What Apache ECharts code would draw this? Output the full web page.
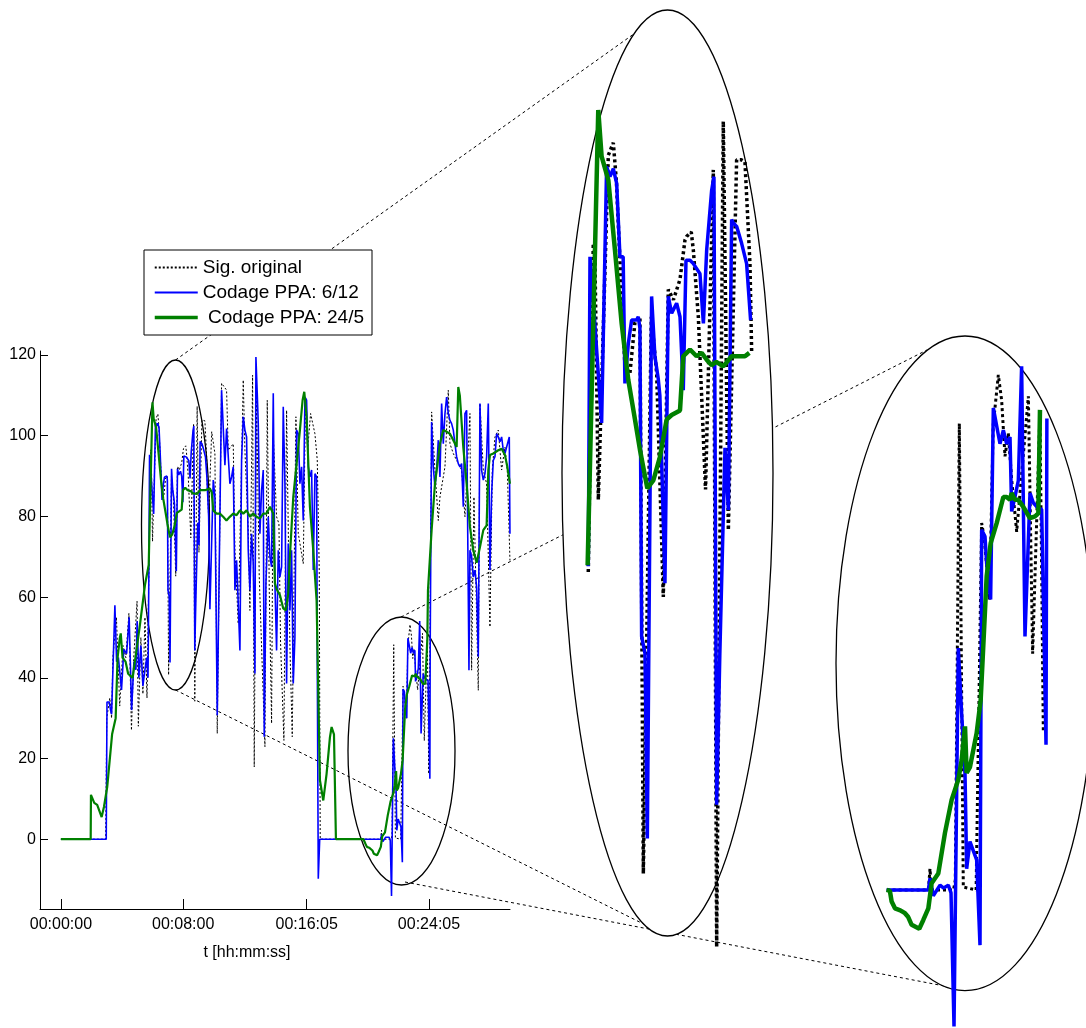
<!DOCTYPE html>
<html><head><meta charset="utf-8">
<script src="https://cdn.jsdelivr.net/npm/echarts@6/dist/echarts.min.js"></script>
<style>html,body{margin:0;padding:0;background:#fff}#c{width:1086px;height:1028px}</style>
</head><body><div id="c"></div>
<script>
// ---------- data (time in seconds, value in signal units) ----------
const xTickValues = [0, 480, 965, 1445];
const xTickLabels = ['00:00:00', '00:08:00', '00:16:05', '00:24:05'];
const yTickValues = [0, 20, 40, 60, 80, 100, 120];

const origT = [0,176,180,192,199,204,218,231,244,255,267,277,286,299,304,314,322,330,338,
 345.6,352.6,355,359.7,373.7,380.7,385,390,397,404,411,418,422.8,434,441.5,450.8,457.8,465,474.2,481.2,483.5,490,492.9,499.9,510,520.9,525.6,534.9,542,553.6,560,565.3,572.3,574.7,
 580,592,604.6,613.8,630.8,650.4,657,676.6,683.2,696.2,715.9,722.4,735.5,742,752.5,759,768.2,778.7,801,810.1,818,827.1,833.7,846.7,855.9,862.4,875.5,886,899.1,908.2,922.6,931.8,951.4,960.6,968.5,980.2,997.2,1006.4,1014.2,1018,
 1187.7,1256,1258.6,1261,1297,1300,1306.6,1313.1,1334,1343.1,1347,1352,1356,1362,1370.4,1375.8,1381.3,1386.7,1392.2,1400.4,1419.5,1426.5,1438.5,1444,
 1450,1455.3,1468.4,1481.5,1488,1507.7,1520.7,1527.3,1540.4,1553.5,1573.1,1586.2,1605.8,1612.3,1621.5,1638.5,1645.1,1658.2,1671.2,1684.3,1693.5,1704,1717,1730.1,1743.2,1752.4,1762.8];
const origV = [0,0,30,35,30,45,55,33,48,45,56,27,45,59,28,50,36,55,35,
 67.4,96.5,95,73.8,104.3,105.4,102,95,85.6,85,89.5,90,40.7,90,85,65.2,92.4,91.5,93.3,96.8,97.1,97.5,95.9,90,74.7,103,34.2,107.3,71.1,103.9,103.9,103.7,94.7,86.8,
 80,101,95.6,26.2,113,111.3,96.4,98,71.6,53.4,113.8,96.4,76.6,56.7,115,17.9,108.8,65,22.9,108.8,61.7,28.7,100.5,79.9,78.2,48.5,24.5,106.3,47.7,25.4,104.7,75.8,68.3,109.6,96.4,105.5,100.5,94,66.7,0,
 0,0,2.2,0,0,1,48.2,0.3,0,37.9,36.5,33,30,48,53.2,50.6,44.8,47.2,42.4,37,51,24.4,49.4,16.2,
 60,105.9,91.5,79,84.8,92.3,111.3,98,95.6,93.9,91.5,79.9,105.5,41.9,84.8,36.9,108,91.5,88.1,52.6,91.5,99.7,101.4,91.5,97.2,91.5,69.1];

const blueT = [0,178,181,190,195,199,212,218.7,225.7,238,247,258,268,277.6,286.6,294.5,299.5,306,314,322,330,337,342,
 345.6,348,352,364.3,371.3,376,380.7,385.4,390,394.5,397,401.7,406.4,413.4,415.7,418,420.4,425.1,428.4,434.4,439,443.7,446,453.1,457.8,462.5,469.5,474.2,478.8,482.6,488.2,492.9,502.2,507,511.6,518.6,521.8,525.6,530,537.3,542,546.6,549,553.6,560.6,567.6,573.2,
 580,585,598.1,604.6,613.8,630.8,637.3,643.9,650.4,657,663.5,670.1,676.6,683.2,689.7,696.2,702.8,709.3,715.9,722.4,729,735.5,742,748.6,755.1,761.7,765.6,770.8,774.8,781.3,787.8,794.4,798.3,804.9,814,820.6,827.1,833.7,840.2,846.7,853.3,859.8,866.4,872.9,879.5,886,892.5,899.1,905.6,912.2,918.7,925.3,931.8,938.3,944.9,951.4,958,964.5,971.1,977.6,984.2,990.7,997.3,1003.8,1007,1010.4,1016,
 1187.7,1255.9,1258.6,1264,1275,1281,1288.6,1293,1297.9,1304.9,1310.4,1315.9,1318.6,1324,1334.9,1340.4,1343.1,1348.6,1351.3,1357.8,1362.2,1373.1,1378.6,1384,1389.5,1392.2,1397.6,1403.1,1408.5,1414,1422.2,1427.6,1433.1,1441.3,1448.4,1449.8,
 1455.3,1461.8,1468.4,1474.9,1481.5,1488,1494.6,1501.1,1507.7,1514.2,1520.7,1527.3,1533.8,1540.4,1546.9,1553.5,1560,1566.5,1573.1,1579.6,1586.2,1592.7,1601.9,1605.8,1612.3,1618.9,1625.4,1632,1638.5,1645.1,1651.6,1658.2,1664.7,1671.2,1677.8,1684.3,1690.9,1697.4,1704,1710.5,1717,1723.6,1730.1,1736.7,1743.2,1749.8,1760.2,1762.8];
const blueV = [0,0,34,34,32,31,58,44,45,37,47,46,55,32,44,42,54,40,48,38,42,45,40,
 67.9,95.3,92,80.6,103.3,102.4,103.1,101.8,95.3,95.3,84.1,87.6,89.7,89.7,90,89,61.7,60.2,43.8,91.8,86.5,84.5,83,66.4,91.8,90.3,91.2,90,83.5,95,95,94.7,93.8,89.4,95.9,101.2,102.4,46.8,60,78.4,72.9,98.6,98.3,98,96.5,94.7,89.7,
 80,57,89,84.8,30.7,111.3,111.7,92.7,101.8,101.4,88.1,89.8,92.3,61.7,69.1,58.4,46.8,93.9,104.7,101.4,99.7,71.6,61.7,75.7,68.3,41.1,119.5,110.5,103,75.7,86.5,91.5,25.4,63.4,79.9,70,67.5,110.5,63.4,46.8,71.6,65,67.5,107.2,88.1,38.6,73.3,56.7,71.6,38.6,50.1,101.4,100.5,88.1,92.3,79,109.6,108.8,92.3,89.8,91.5,66.7,90.6,89.8,37,-9.8,0,
 0,0,1.2,-0.6,0.5,0.2,0.5,-0.3,-14.1,25,18.2,12,2.2,5,3.1,-5.7,37.2,36.5,33.7,30,49.8,46.1,47.5,46.1,46.8,39.1,40.6,42.3,54.1,26.2,41,40,39.6,39.3,15,48.7,
 103.4,92.3,87.3,91.4,98.9,89.8,108,98,105.5,109.6,105.5,103.8,103,101.4,98,94.8,93.1,92.3,93.1,82.4,105.5,106.3,41.9,71.6,70,65,66.7,62.5,45.2,108,91.4,89,90.6,94.8,108,66.7,85.7,93.9,94.8,100.5,99.7,98.5,99.7,96.4,95.6,97.2,99.7,75.7];

const greenT = [0,117,118,131,142.5,160,169,182,201,215,222.6,231.6,235,242,254,264,281.5,290.5,303.5,310,330,
 344.7,359.6,364.3,373.7,383,392.4,401.7,411.1,418.1,428.4,436.8,446.1,455.5,462.5,474.2,478.8,483.5,488.2,497.5,504.5,511.6,518.6,525,534.9,546.6,565.3,571.4,
 585,592,598,611,624,637,650,663,676.6,689.7,702.8,716,729,742,755,768,781.3,794.4,807.5,820.6,833.7,840.2,846.7,859.8,872.9,883,892.5,899,912.2,925.3,938.3,948.8,955.4,964.5,977.6,990.7,1003.8,1016.9,1030,1043,1056.2,1062.7,1069,1072,1079.7,
 1187.7,1193,1195.9,1201.3,1210,1217.7,1223,1228.6,1241.1,1247.7,1255.9,1261.3,1272.2,1283.1,1294,1304.9,1310.4,1315.9,1318.6,1324,1334.9,1341.5,1351.3,1357.8,1367.7,1378.6,1384,1389.5,1392.2,1397.6,1403.1,1411,1422.2,1430.4,1435.8,1438.5,
 1441,1445,1455.3,1468.4,1488,1501.1,1514,1527.3,1540.4,1553.5,1560,1566,1579.6,1592.7,1605.8,1618.9,1632,1645.1,1658.2,1671.2,1677.8,1684.3,1697.4,1717,1730.1,1743.2,1752.4,1762.8];
const greenV = [0,0,11,9,8.5,5.5,8,13,26,30,45,50,51,45,44,41,40,44,50,53,63,
 68,108.3,104.2,102.1,95.9,89.4,84.4,80.9,78.2,74.8,75.5,77.6,80.9,81.3,81.7,86.5,86.8,87.1,86.5,86.8,86.2,85.7,86,85.6,86.5,86.5,86.8,
 86.9,86,81.5,80.7,80.7,79.9,79,79.9,80.7,80.3,81.5,80.7,81.5,79.9,80.7,79.9,79.5,80.7,80.7,82.4,80.7,63.4,62,60.5,57.2,56.7,60.9,70,84.8,93.1,101.4,108.8,110.9,104.7,82.4,71.6,59.2,14.6,9.6,16.2,25.3,27.8,27.8,26,0,
 0,-0.1,-1.2,-1.9,-2.1,-2.4,-2.8,-3.6,-4,-3.1,-1.9,0.7,1.7,5.9,9.3,11.4,13.4,16.9,12.1,12.7,16.2,19.6,32.4,35.8,37.9,40.6,40.6,40.3,41,40.3,40.3,39.6,38.4,38.6,38.9,49.6,
 61.7,62,76.6,88.1,98,101.4,101,100.5,98.9,97.2,112.1,110,97.2,88.1,77.4,71.6,68.5,72.4,76.6,77.8,91.4,95.2,95.6,96.4,96.8,95.2,92.3,88.1];

// time windows shown in the two magnified insets (per series: orig, 6/12, 24/5)
const inset1Window = [[344.5, 575], [344.5, 575], [344.5, 575]];
const inset2Window = [[1186, 1444.5], [1186, 1450], [1186, 1439]];

// ---------- helpers ----------
const zip = (t, v) => t.map((x, i) => [x, v[i]]);
const origData = zip(origT, origV);
const blueData = zip(blueT, blueV);
const greenData = zip(greenT, greenV);
const win = (d, w) => w ? d.filter(p => p[0] >= w[0] && p[0] <= w[1]) : d;
const FONT = 'Liberation Sans, Arial, sans-serif';
const NAME_ORIG = 'Sig. original', NAME_BLUE = 'Codage PPA: 6/12', NAME_GREEN = ' Codage PPA: 24/5';

function mkSeries(idx, windows, wBlack, dash, wBlue, wGreen) {
  const w = windows || [null, null, null];
  const base = {type: 'line', xAxisIndex: idx, yAxisIndex: idx, symbol: 'none', showSymbol: false, animation: false, clip: true, silent: true};
  return [
    Object.assign({}, base, {name: NAME_ORIG, data: win(origData, w[0]), z: 2, itemStyle: {color: '#000'}, lineStyle: {color: '#000', width: wBlack, type: dash, cap: 'butt'}}),
    Object.assign({}, base, {name: NAME_BLUE, data: win(blueData, w[1]), z: 3, itemStyle: {color: '#0000ff'}, lineStyle: {color: '#0000ff', width: wBlue}}),
    Object.assign({}, base, {name: NAME_GREEN, data: win(greenData, w[2]), z: 4, itemStyle: {color: '#008000'}, lineStyle: {color: '#008000', width: wGreen}})
  ];
}

const chart = echarts.init(document.getElementById('c'), null, {renderer: 'canvas'});
const dashLine = (x1, y1, x2, y2) => ({type: 'line', z: 0, silent: true, shape: {x1, y1, x2, y2}, style: {stroke: '#000', lineWidth: 1, lineDash: [3, 3]}});
const ell = (cx, cy, rx, ry, fill) => ({type: 'ellipse', z: 1, silent: true, shape: {cx, cy, rx, ry}, style: {fill: fill, stroke: '#000', lineWidth: 1.3}});

chart.setOption({
  animation: false,
  backgroundColor: '#fff',
  textStyle: {fontFamily: FONT},
  grid: [
    {left: 40, top: 351, width: 470, height: 558},
    {left: 587.85, top: 0, width: 164.04, height: 1028},
    {left: 885.6, top: 0, width: 161.4, height: 1028}
  ],
  legend: {
    data: [
      {name: NAME_ORIG},
      {name: NAME_BLUE, lineStyle: {width: 2}},
      {name: NAME_GREEN, lineStyle: {width: 3.5}}
    ],
    orient: 'vertical', left: 144, top: 250,
    padding: [8, 8, 8, 9], itemWidth: 43, itemHeight: 14, itemGap: 6,
    itemStyle: {opacity: 0},
    textStyle: {fontSize: 19, color: '#000', fontFamily: FONT},
    borderColor: '#000', borderWidth: 1, borderRadius: 0, backgroundColor: '#fff',
    selectedMode: false, z: 6
  },
  xAxis: [
    {gridIndex: 0, type: 'value', min: -82, max: 1763,
      axisLine: {onZero: false, lineStyle: {color: '#000', width: 1}},
      axisTick: {inside: true, length: 10, customValues: xTickValues, lineStyle: {color: '#000'}},
      axisLabel: {customValues: xTickValues, fontSize: 16, color: '#000', margin: 8, fontFamily: FONT,
        formatter: v => { const i = xTickValues.indexOf(v); return i >= 0 ? xTickLabels[i] : ''; }},
      splitLine: {show: false},
      name: 't [hh:mm:ss]', nameLocation: 'middle', nameGap: 36,
      nameTextStyle: {fontSize: 16, color: '#000', fontFamily: FONT, padding: [0, 56, 0, 0]}},
    {gridIndex: 1, type: 'value', min: 345, max: 575, show: false},
    {gridIndex: 2, type: 'value', min: 1186, max: 1450, show: false}
  ],
  yAxis: [
    {gridIndex: 0, type: 'value', min: -17.3, max: 121,
      axisLine: {show: true, onZero: false, lineStyle: {color: '#000', width: 1}},
      axisTick: {show: true, inside: true, length: 8, customValues: yTickValues, lineStyle: {color: '#000'}},
      axisLabel: {customValues: yTickValues, fontSize: 16, color: '#000', margin: 4, fontFamily: FONT},
      splitLine: {show: false}},
    {gridIndex: 1, type: 'value', min: 27.03, max: 118.04, show: false},
    {gridIndex: 2, type: 'value', min: -14.26, max: 91.94, show: false}
  ],
  graphic: {elements: [
    dashLine(175.5, 360, 667.5, 10),
    dashLine(175.5, 690, 667.5, 936),
    dashLine(401, 617, 927, 350),
    dashLine(405, 882, 965, 990),
    ell(175.5, 525, 34, 165, 'none'),
    ell(401.5, 751, 53.5, 134, 'none'),
    ell(667.5, 473, 105.5, 463, '#fff'),
    ell(965, 663.3, 129, 327.3, '#fff')
  ]},
  series: [].concat(
    mkSeries(0, null, 1, [2, 2], 1.6, 2.2),
    mkSeries(1, inset1Window, 3.5, [3, 3], 3.5, 4.5),
    mkSeries(2, inset2Window, 3, [3, 3], 3.5, 4.5)
  )
});
</script></body></html>
